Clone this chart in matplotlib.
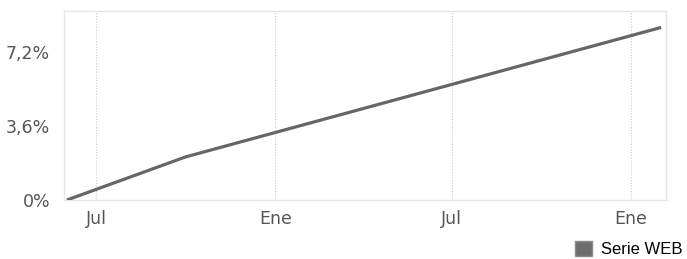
import matplotlib
matplotlib.use("Agg")
import matplotlib.pyplot as plt
import matplotlib.dates as mdates
from matplotlib.patches import Patch
import numpy as np

dates = np.array(["2022-06-01", "2022-10-01", "2024-02-01"], dtype="datetime64[D]")
values = [0.0, 2.1, 8.4]
series_name = "Serie WEB"
month_names = {1: "Ene", 7: "Jul"}
y_ticks = [0, 3.6, 7.2]
y_labels = ["0%", "3,6%", "7,2%"]

fig = plt.figure(figsize=(6.87, 2.59), dpi=100)
ax = fig.add_axes([64 / 687, 59 / 259, 602 / 687, 189 / 259])

ax.plot(dates.astype("O"), values, color="#666666", lw=2.3, solid_capstyle="butt", zorder=3)

ax.set_xlim(np.datetime64("2022-05-29").astype("O"), np.datetime64("2024-02-06").astype("O"))
ax.set_ylim(0, 9.2)

ax.xaxis.set_major_locator(mdates.MonthLocator(bymonth=[1, 7]))
ax.xaxis.set_major_formatter(plt.FuncFormatter(lambda v, p: month_names[mdates.num2date(v).month]))
ax.set_yticks(y_ticks)
ax.set_yticklabels(y_labels)

ax.tick_params(length=0, colors="#555555", labelsize=12.5)
ax.tick_params(axis="x", pad=7.5)
ax.tick_params(axis="y", pad=10)
ax.grid(axis="x", color="#cccccc", linestyle=(0, (1, 1.5)), lw=0.8)
ax.grid(axis="y", visible=False)
for s in ax.spines.values():
    s.set_color("#e6e6e6")
    s.set_linewidth(1)

handle = Patch(facecolor="#6d6d6d", edgecolor="#8a8a8a", label=series_name)
fig.legend(handles=[handle], loc="lower right", bbox_to_anchor=(1.016, -0.05),
           frameon=False, prop={"family": "Liberation Sans", "size": 12},
           handlelength=1.05, handleheight=1.05, handletextpad=0.55)

fig.savefig("out.png", dpi=100, facecolor="white")
